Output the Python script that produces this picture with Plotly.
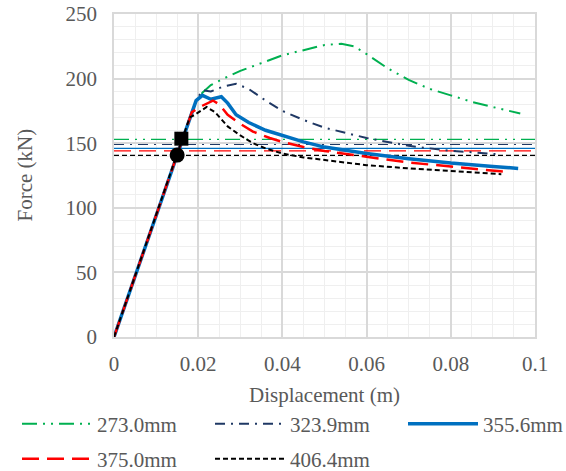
import plotly.graph_objects as go

# ---- data ----
names = ["273.0mm", "323.9mm", "355.6mm", "375.0mm", "406.4mm"]

x_273 = [0, 0.01, 0.0195, 0.021, 0.023, 0.026, 0.03, 0.035, 0.04, 0.045, 0.05, 0.054, 0.057, 0.06, 0.065, 0.07, 0.075, 0.08, 0.085, 0.09, 0.0965]
y_273 = [0, 94, 183, 189, 195, 200, 206, 212, 218, 222, 226, 227, 225, 219, 208, 199, 192, 187, 182, 178, 173]

x_323 = [0, 0.01, 0.0195, 0.021, 0.023, 0.026, 0.029, 0.032, 0.036, 0.04, 0.045, 0.05, 0.055, 0.06, 0.065, 0.07, 0.075, 0.08, 0.085, 0.091]
y_323 = [0, 94, 183, 191, 190, 194, 196, 192, 183, 175, 168, 162, 158, 154, 151, 148, 146, 144, 143, 141.5]

x_355 = [0, 0.01, 0.0195, 0.021, 0.023, 0.0255, 0.027, 0.029, 0.032, 0.036, 0.04, 0.045, 0.05, 0.055, 0.06, 0.07, 0.08, 0.09, 0.096]
y_355 = [0, 94, 183, 187, 184, 186, 181, 172, 166, 160, 156, 151, 147, 144.5, 142, 138, 134.6, 132, 130.5]

x_375 = [0, 0.01, 0.0185, 0.021, 0.0235, 0.025, 0.027, 0.03, 0.033, 0.037, 0.04, 0.045, 0.05, 0.06, 0.07, 0.08, 0.0924]
y_375 = [0, 94, 174, 179, 183, 180, 172, 165, 159, 154, 151, 147, 144, 139.5, 135, 132, 128]

x_406 = [0, 0.01, 0.018, 0.0192, 0.022, 0.024, 0.027, 0.03, 0.033, 0.036, 0.04, 0.045, 0.05, 0.06, 0.07, 0.08, 0.092]
y_406 = [0, 94, 170, 172, 178, 174, 163, 156, 150, 146, 142, 139, 137, 133, 130.5, 128.5, 126]

ref_levels = [153, 149, 146, 144, 140.5]   # horizontal reference lines (kN)
ref_x = [0, 0.1]

square_pt = (0.016, 153.5)
circle_pt = (0.015, 140.8)

x_ticks = [0, 0.02, 0.04, 0.06, 0.08, 0.1]
x_tick_text = ["0", "0.02", "0.04", "0.06", "0.08", "0.1"]
y_ticks = [0, 50, 100, 150, 200, 250]

x_title = "Displacement (m)"
y_title = "Force (kN)"

# ---- styles ----
colors = ["#00B050", "#1F3864", "#0070C0", "#FF0000", "#000000"]
dashes = ["15px,6px,2px,6px,2px,6px", "10px,6px,2px,6px", "solid", "17px,8px", "5px,3px"]
widths = [2, 2, 3.5, 2.5, 2]

W, H = 566, 471
ML, MR, MT, MB = 114, 31, 14, 134

# legend placement (one small legend per entry, laid out as 3 + 2), figure px
leg_x_px = [17, 210, 403, 17, 210]
leg_y_px = [424, 424, 424, 459, 459]

xs = [x_273, x_323, x_355, x_375, x_406]
ys = [y_273, y_323, y_355, y_375, y_406]

FONT = "Liberation Serif, Times New Roman, serif"
GREY = "#595959"

fig = go.Figure()

for i in range(5):
    fig.add_trace(go.Scatter(
        x=ref_x, y=[ref_levels[i]] * 2, mode="lines",
        line=dict(color=colors[i], width=1.2, dash=dashes[i]),
        showlegend=False, hoverinfo="skip"))

leg_ids = ["legend", "legend2", "legend3", "legend4", "legend5"]
for i in range(5):
    fig.add_trace(go.Scatter(
        x=xs[i], y=ys[i], mode="lines", name=names[i], legend=leg_ids[i],
        line=dict(color=colors[i], width=widths[i], dash=dashes[i])))

fig.add_trace(go.Scatter(x=[square_pt[0]], y=[square_pt[1]], mode="markers",
                         marker=dict(symbol="square", size=14, color="black"),
                         showlegend=False))
fig.add_trace(go.Scatter(x=[circle_pt[0]], y=[circle_pt[1]], mode="markers",
                         marker=dict(symbol="circle", size=15, color="black"),
                         showlegend=False))

legends = {}
for i in range(5):
    legends[leg_ids[i]] = dict(
        xref="container", yref="container",
        x=leg_x_px[i] / W, y=1 - leg_y_px[i] / H,
        xanchor="left", yanchor="middle",
        itemwidth=70, bgcolor="rgba(0,0,0,0)",
        font=dict(family=FONT, size=21, color=GREY))

plot_w = W - ML - MR

fig.update_layout(
    width=W, height=H,
    margin=dict(l=ML, r=MR, t=MT, b=MB, autoexpand=False),
    paper_bgcolor="white", plot_bgcolor="white",
    font=dict(family=FONT, size=21, color=GREY),
    xaxis=dict(range=[0, 0.1], tickvals=x_ticks, ticktext=x_tick_text, automargin=True,
               showgrid=True, gridcolor="#D9D9D9", gridwidth=1.5,
               minor=dict(dtick=0.005, showgrid=True, gridcolor="#EFEFEF", gridwidth=1),
               showline=True, linecolor="#D9D9D9", linewidth=1.5, mirror=True,
               zeroline=False, ticks="", ticklabelstandoff=7, ticklabeloverflow="allow",
               title=dict(text=x_title, standoff=12, font=dict(size=21))),
    yaxis=dict(range=[0, 250], tickvals=y_ticks, automargin=True,
               showgrid=True, gridcolor="#D9D9D9", gridwidth=1.5,
               minor=dict(dtick=10, showgrid=True, gridcolor="#EFEFEF", gridwidth=1),
               showline=True, linecolor="#D9D9D9", linewidth=1.5, mirror=True,
               zeroline=False, ticks="", ticklabelstandoff=11, ticklabeloverflow="allow"),
    annotations=[dict(text=y_title, textangle=-90, showarrow=False,
                      xref="paper", yref="paper", x=(24 - ML) / plot_w, y=0.5,
                      xanchor="center", yanchor="middle",
                      font=dict(family=FONT, size=21, color=GREY))],
    **legends,
)

# remove the page's default body margin so the 566x471 figure fills the window
fig.write_html("out.html",
               config={"displayModeBar": False},
               post_script="document.body.style.margin='0';document.body.style.overflow='hidden';")
